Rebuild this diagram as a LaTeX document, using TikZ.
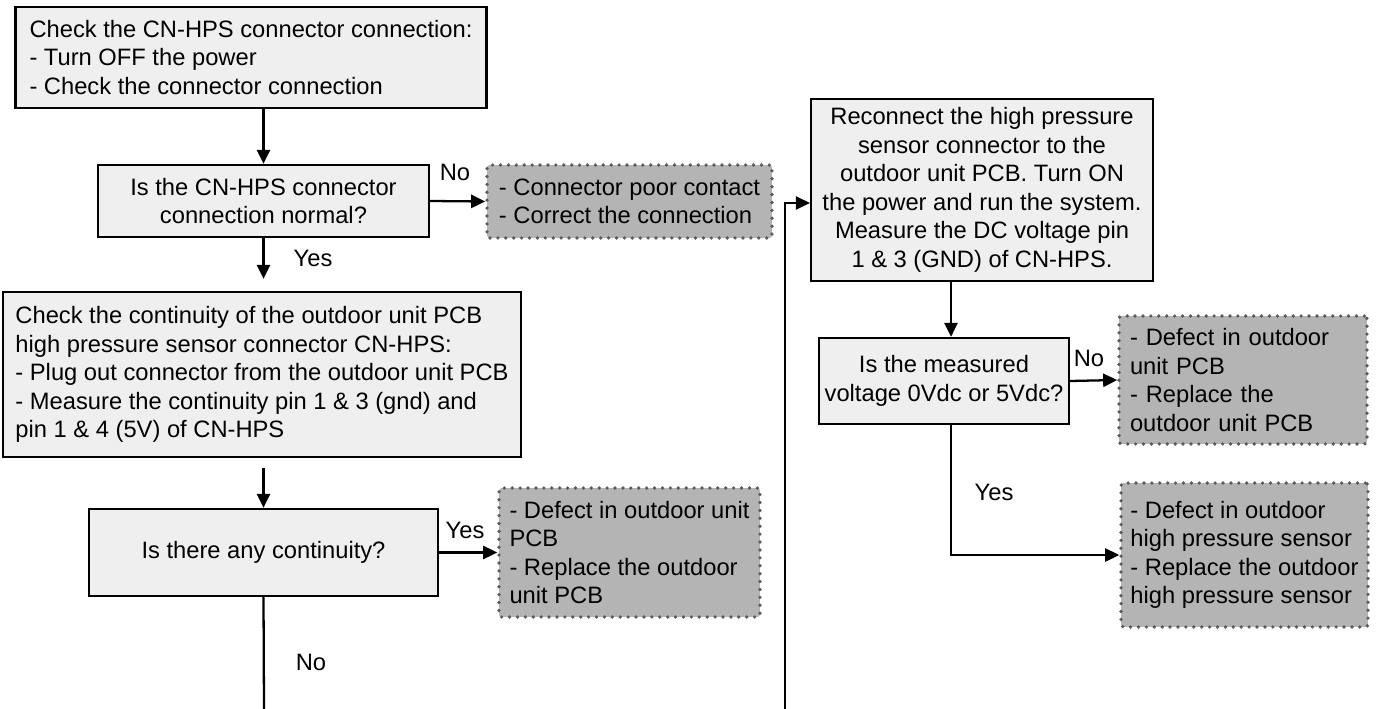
\documentclass[tikz,border=0pt]{standalone}
\usepackage{fontspec}
\setmainfont{Liberation Sans}
\usepackage{xcolor}
\usetikzlibrary{arrows.meta}
\definecolor{boxgray}{RGB}{239,239,239}
\definecolor{notegray}{RGB}{180,180,180}
\definecolor{dotgray}{RGB}{90,90,90}
\newcommand{\fc}{\fontsize{13.5}{16.2}\selectfont}

\begin{document}
\begin{tikzpicture}[x=0.02cm,y=-0.02cm,>={Triangle[length=8pt,width=7.5pt]},line width=1.3pt,
  proc/.style={draw,fill=boxgray,line width=1.3pt,font=\fc,inner sep=0pt},
  note/.style={fill=notegray,draw=dotgray,line width=2.1pt,dash pattern=on 0pt off 4.5pt,
    line cap=round,rounded corners=1.5pt,font=\fc,align=left,inner sep=0pt},
  lbl/.style={font=\fc,inner sep=0pt}]
        \useasboundingbox (0,0) rectangle (1378,709);
        % left column: connector check
        \node[proc,align=left,minimum width=9.42cm,minimum height=2.02cm] (chk1) at (251,57.5)
          {Check the CN-HPS connector connection:\\- Turn OFF the power\\- Check the connector connection};
        \node[proc,align=center,minimum width=6.62cm,minimum height=1.44cm] (q1) at (263.5,201)
          {Is the CN-HPS connector\\connection normal?};
        \node[note,minimum width=5.7cm,minimum height=1.46cm] (n1) at (629.5,201.5)
          {- Connector poor contact\\- Correct the connection};
        % left column: continuity check
        \node[proc,align=left,minimum width=10.36cm,minimum height=3.3cm] (chk2) at (262,374.5)
          {Check the continuity of the outdoor unit PCB\\high pressure sensor connector CN-HPS:\\- Plug out connector from the outdoor unit PCB\\- Measure the continuity pin 1 \& 3 (gnd) and\\pin 1 \& 4 (5V) of CN-HPS};
        \node[proc,align=center,minimum width=6.98cm,minimum height=1.74cm] (q2) at (263.5,552.5)
          {Is there any continuity?};
        \node[note,minimum width=5.22cm,minimum height=2.58cm] (n2) at (629.5,552.5)
          {- Defect in outdoor unit\\PCB\\- Replace the outdoor\\unit PCB};
        % right column: voltage check
        \node[proc,align=center,minimum width=6.84cm,minimum height=3.64cm] (chk3) at (982,190)
          {Reconnect the high pressure\\sensor connector to the\\outdoor unit PCB. Turn ON\\the power and run the system.\\Measure the DC voltage pin\\1 \& 3 (GND) of CN-HPS.};
        \node[proc,align=center,minimum width=5cm,minimum height=1.72cm] (q3) at (944,381)
          {Is the measured\\voltage 0Vdc or 5Vdc?};
        \node[note,text width=4.52cm,inner xsep=0.22cm,minimum height=2.56cm] (n3) at (1243,380)
          {- Defect in outdoor\\unit PCB\\- Replace the\\outdoor unit PCB};
        \node[note,minimum width=4.94cm,minimum height=2.88cm] (n4) at (1244.5,555)
          {- Defect in outdoor\\high pressure sensor\\- Replace the outdoor\\high pressure sensor};
        % connectors
        \draw[->] (chk1.south -| q1.north) -- (q1.north);
        \draw[->] (q1.east) -- (n1.west);
        \node[lbl] (no1) at (455,172) {No};
        \draw[->,shorten >=0.24cm] (q1.south) -- (q1.south |- chk2.north);
        \node[lbl] (yes1) at (313,258) {Yes};
        \draw[->,shorten <=0.2cm] (chk2.south -| q2.north) -- (q2.north);
        \draw[->] (q2.east) -- (n2.west);
        \node[lbl] (yes2) at (465,530) {Yes};
        \coordinate (end1) at (264,709);
        \draw (q2.south) -- (end1);
        \node[lbl] (no2) at (311,662) {No};
        % return line into the right column
        \coordinate (end2) at (785,709);
        \draw[->] (end2) |- ([yshift=-0.26cm]chk3.west);
        \coordinate (mid) at (951,0);
        \draw[->] (chk3.south -| mid) -- (q3.north -| mid);
        \draw[->] (q3.east) -- (n3.west);
        \node[lbl] (no3) at (1089,358) {No};
        \draw[->] (q3.south -| mid) |- (n4.west);
        \node[lbl] (yes3) at (994,492) {Yes};
      \end{tikzpicture}
\end{document}
